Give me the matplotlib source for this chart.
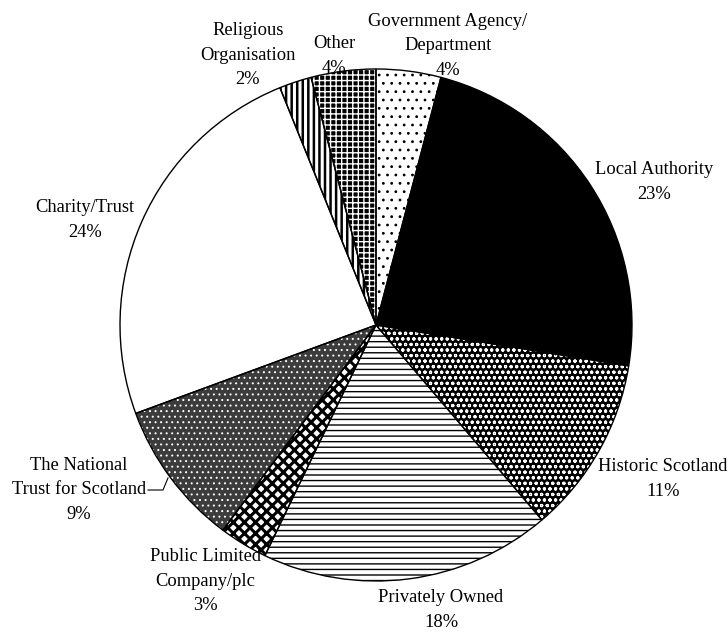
import matplotlib
matplotlib.use("Agg")
import matplotlib.pyplot as plt

plt.rcParams['font.family'] = ['Liberation Serif', 'DejaVu Serif']

# ownership categories, clockwise from 12 o'clock
labels = ['Government Agency/\nDepartment', 'Local Authority', 'Historic Scotland',
          'Privately Owned', 'Public Limited\nCompany/plc', 'The National\nTrust for Scotland',
          'Charity/Trust', 'Religious\nOrganisation', 'Other']
shares = [4, 23, 11, 18, 3, 9, 24, 2, 4]

# fill style per slice: face colour, hatch, hatch colour, hatch width
styles = [
    ('white', '..', 'black', 0.8),
    ('black', '', 'black', 1.0),
    ('black', 'ooo', 'white', 0.8),
    ('white', '---', 'black', 1.0),
    ('white', 'xxx', 'black', 2.2),
    ('#3c3c3c', '...', 'white', 0.7),
    ('white', '', 'black', 1.0),
    ('white', '|||', 'black', 1.8),
    ('black', '+++', 'white', 1.0),
]

# label centres (pixel coords, y from top)
label_pos = [(448, 46), (654, 182), (663, 479), (441, 610), (205, 581),
             (79, 490), (85, 220), (248, 55), (334, 56)]

W, H = 728, 632
fig = plt.figure(figsize=(W / 100, H / 100), dpi=100)
ax = fig.add_axes([0, 0, 1, 1])

cx, cy, r = 376, H - 325, 256

# hatched fills first (edge colour doubles as hatch colour)
wedges, _ = ax.pie(shares, startangle=90, counterclock=False, center=(cx, cy),
                   radius=r, frame=True)
for w, (fc, hatch, hc, hlw) in zip(wedges, styles):
    w.set_facecolor(fc)
    w.set_hatch(hatch)
    w.set_edgecolor(hc)
    w.set_linewidth(0)
    try:
        w.set_hatch_linewidth(hlw)
    except AttributeError:
        pass

# black outlines on top
ax.pie(shares, startangle=90, counterclock=False, center=(cx, cy),
       radius=r, frame=True,
       wedgeprops=dict(fill=False, edgecolor='black', linewidth=1.0))
ax.set_xlim(0, W)
ax.set_ylim(0, H)
ax.set_aspect('equal')
ax.axis('off')

for lab, val, (x, y) in zip(labels, shares, label_pos):
    ax.text(x, H - y, f'{lab}\n{val}%', ha='center', va='center',
            fontsize=13.3, linespacing=1.55)

# leader line for the National Trust label
ax.plot([148, 163, 168], [H - 490, H - 490, H - 478], color='black', lw=0.8)

fig.savefig('out.png', dpi=100, facecolor='white')
